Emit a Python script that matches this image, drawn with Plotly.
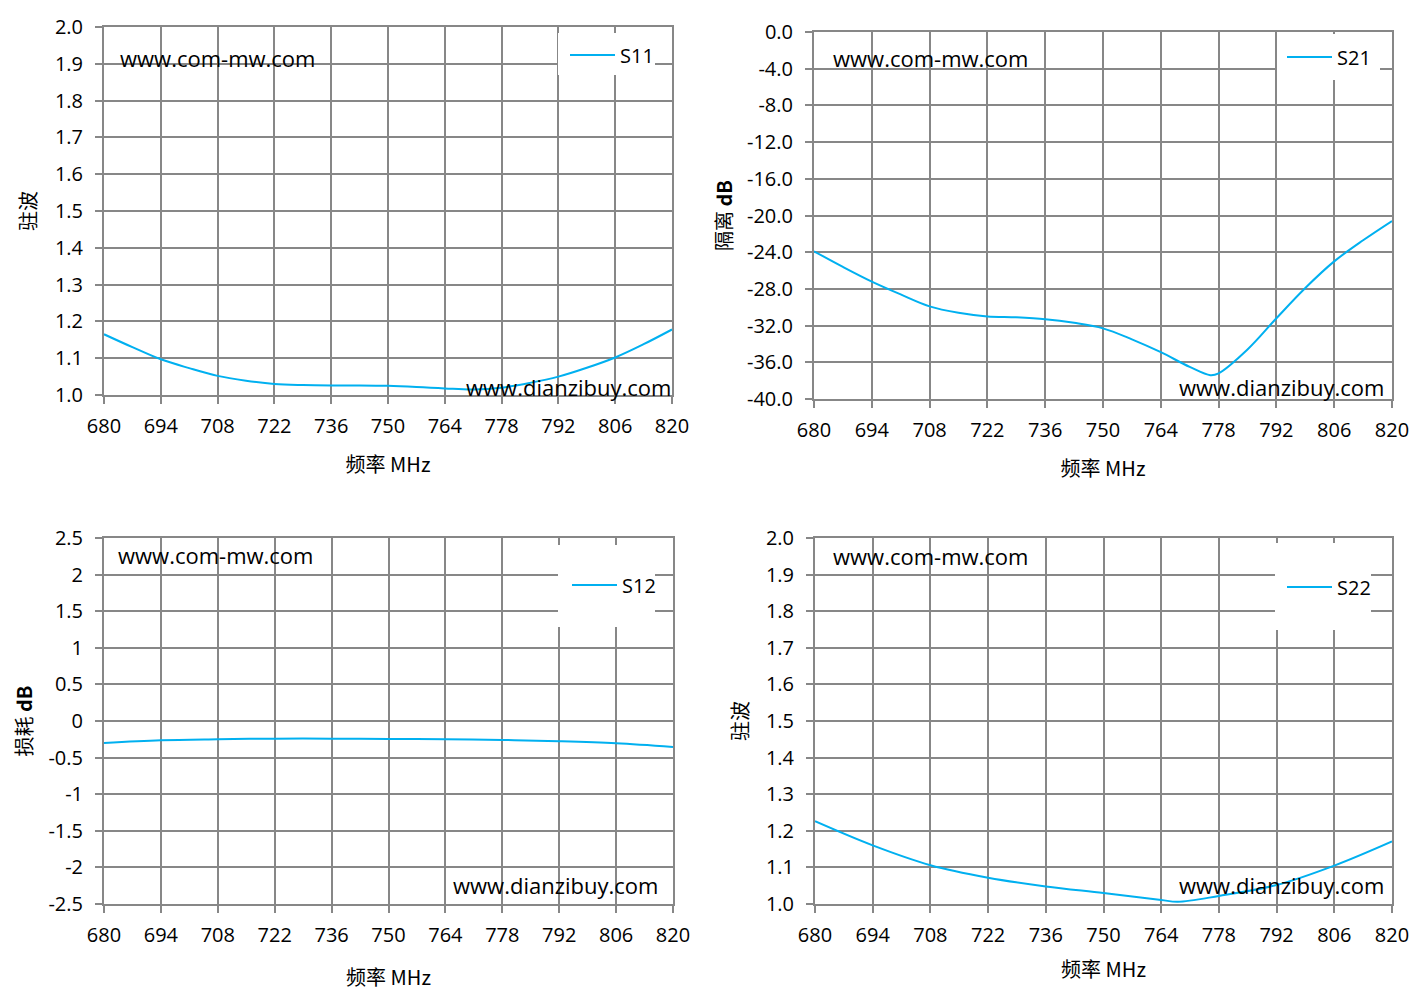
import plotly.graph_objects as go

# 频率轴
FREQ_TICKS = [680, 694, 708, 722, 736, 750, 764, 778, 792, 806, 820]

# S11 驻波
s11_freq = [680, 687, 694, 701, 708, 715, 722, 729, 736, 743, 750, 757, 764, 771, 778, 785, 792, 799, 806, 813, 820]
s11_vswr = [1.165, 1.130, 1.097, 1.073, 1.052, 1.039, 1.030, 1.027, 1.026, 1.026, 1.025, 1.022, 1.018, 1.015, 1.020, 1.033, 1.050, 1.074, 1.102, 1.138, 1.178]

# S21 隔离
s21_freq = [680, 687, 694, 701, 708, 715, 722, 729, 736, 743, 750, 757, 764, 771, 776, 778, 785, 792, 799, 806, 813, 820]
s21_db = [-23.9, -25.6, -27.2, -28.6, -29.9, -30.6, -31.0, -31.1, -31.3, -31.7, -32.3, -33.5, -34.9, -36.5, -37.4, -37.2, -34.6, -31.2, -27.9, -25.0, -22.7, -20.6]

# S12 损耗
s12_freq = [680, 694, 708, 722, 736, 750, 764, 778, 792, 806, 820]
s12_db = [-0.30, -0.264, -0.250, -0.241, -0.241, -0.245, -0.250, -0.259, -0.277, -0.305, -0.355]

# S22 驻波
s22_freq = [680, 694, 708, 722, 736, 750, 764, 768, 778, 792, 806, 820]
s22_vswr = [1.226, 1.160, 1.106, 1.072, 1.048, 1.030, 1.011, 1.006, 1.022, 1.052, 1.105, 1.171]

# 刻度标签
vswr_ticks = [1.0, 1.1, 1.2, 1.3, 1.4, 1.5, 1.6, 1.7, 1.8, 1.9, 2.0]
vswr_text = ['1.0', '1.1', '1.2', '1.3', '1.4', '1.5', '1.6', '1.7', '1.8', '1.9', '2.0']
iso_ticks = [-40, -36, -32, -28, -24, -20, -16, -12, -8, -4, 0]
iso_text = ['-40.0', '-36.0', '-32.0', '-28.0', '-24.0', '-20.0', '-16.0', '-12.0', '-8.0', '-4.0', '0.0']
loss_ticks = [-2.5, -2, -1.5, -1, -0.5, 0, 0.5, 1, 1.5, 2, 2.5]
loss_text = ['-2.5', '-2', '-1.5', '-1', '-0.5', '0', '0.5', '1', '1.5', '2', '2.5']

W, H = 1427, 1006
PAGE_OFF = 8  # 浏览器 body 默认边距
LINE_COLOR = '#00B0F0'
GRID = '#878787'
TICK_FONT = dict(family='Open Sans', size=20, color='black')
CJK_FONT = dict(family='Noto Sans CJK SC', size=20, color='black')
WM_FONT = dict(family='Open Sans', size=22, color='black')


def px_x(p):
    return (p - PAGE_OFF) / W


def px_y(p):
    return 1 - (p - PAGE_OFF) / H


# 各子图的绘图区（像素）: x0, x1, y_top, y_bottom
panels = [
    dict(box=(104, 672, 27, 395), freq=s11_freq, val=s11_vswr, name='S11', ytitle='驻波',
         yrange=[1.0, 2.0], tickvals=vswr_ticks, ticktext=vswr_text,
         leg=(565, 55), legbox=(558, 655, 33, 75), ystand=13, xstand=20,
         wm1=(0.025, 0.916), wm2=(1.002, 0.022)),
    dict(box=(814, 1392, 32, 399), freq=s21_freq, val=s21_db, name='S21', ytitle='隔离 <b>dB</b>',
         yrange=[-40, 0], tickvals=iso_ticks, ticktext=iso_text,
         leg=(1282, 57), legbox=(1277, 1380, 34, 80), ystand=9, xstand=20,
         wm1=(0.029, 0.929), wm2=(0.99, 0.033)),
    dict(box=(104, 673, 538, 904), freq=s12_freq, val=s12_db, name='S12', ytitle='损耗 <b>dB</b>',
         yrange=[-2.5, 2.5], tickvals=loss_ticks, ticktext=loss_text,
         leg=(567, 585), legbox=(558, 655, 545, 627), ystand=10, xstand=24,
         wm1=(0.021, 0.954), wm2=(0.977, 0.052)),
    dict(box=(815, 1392, 538, 904), freq=s22_freq, val=s22_vswr, name='S22', ytitle='驻波',
         yrange=[1.0, 2.0], tickvals=vswr_ticks, ticktext=vswr_text,
         leg=(1282, 587), legbox=(1275, 1371, 543, 630), ystand=12, xstand=16,
         wm1=(0.028, 0.951), wm2=(0.99, 0.052)),
]

fig = go.Figure()
layout = dict(width=W, height=H, margin=dict(l=0, r=0, t=0, b=0),
              paper_bgcolor='white', plot_bgcolor='white', showlegend=True)
annotations = []
shapes = []

for i, p in enumerate(panels, start=1):
    sfx = '' if i == 1 else str(i)
    x0, x1, yt, yb = p['box']
    leg_key = 'legend' if i == 1 else f'legend{i}'

    fig.add_trace(go.Scatter(
        x=p['freq'], y=p['val'], mode='lines', name=p['name'],
        line=dict(color=LINE_COLOR, width=2, shape='spline', smoothing=1.0),
        xaxis='x' + sfx, yaxis='y' + sfx, legend=leg_key,
    ))

    layout['xaxis' + sfx] = dict(
        domain=[px_x(x0), px_x(x1)], anchor='y' + sfx, range=[680, 820], automargin=False,
        tickvals=FREQ_TICKS, ticks='outside', ticklen=7, tickwidth=2, tickcolor=GRID,
        ticklabelstandoff=5,
        showgrid=True, gridcolor=GRID, gridwidth=2, zeroline=False,
        showline=True, linecolor=GRID, linewidth=2, mirror=True,
        tickfont=TICK_FONT,
        title=dict(text='频率 MHz', font=CJK_FONT, standoff=p['xstand']),
    )
    layout['yaxis' + sfx] = dict(
        domain=[px_y(yb), px_y(yt)], anchor='x' + sfx, range=p['yrange'], automargin=False,
        tickvals=p['tickvals'], ticktext=p['ticktext'],
        ticks='outside', ticklen=7, tickwidth=2, tickcolor=GRID,
        ticklabelstandoff=8,
        showgrid=True, gridcolor=GRID, gridwidth=2, zeroline=False,
        showline=True, linecolor=GRID, linewidth=2, mirror=True,
        tickfont=TICK_FONT,
        title=dict(text=p['ytitle'], font=CJK_FONT, standoff=p['ystand']),
    )

    lx, ly = p['leg']
    layout[leg_key] = dict(x=px_x(lx), y=px_y(ly), xanchor='left', yanchor='middle',
                           bgcolor='rgba(0,0,0,0)', borderwidth=0, font=TICK_FONT,
                           itemwidth=45)

    bx0, bx1, by0, by1 = p['legbox']
    shapes.append(dict(type='rect', xref='paper', yref='paper',
                       x0=px_x(bx0), x1=px_x(bx1), y0=px_y(by1), y1=px_y(by0),
                       fillcolor='white', line=dict(width=0), layer='above'))

    wx, wy = p['wm1']
    annotations.append(dict(text='www.com-mw.com', xref='x' + sfx + ' domain', yref='y' + sfx + ' domain',
                            x=wx, y=wy, xanchor='left', yanchor='middle',
                            showarrow=False, font=WM_FONT))
    wx, wy = p['wm2']
    annotations.append(dict(text='www.dianzibuy.com', xref='x' + sfx + ' domain', yref='y' + sfx + ' domain',
                            x=wx, y=wy, xanchor='right', yanchor='middle',
                            showarrow=False, font=WM_FONT))

layout['annotations'] = annotations
layout['shapes'] = shapes
fig.update_layout(**layout)

fig.write_html('out.html')
